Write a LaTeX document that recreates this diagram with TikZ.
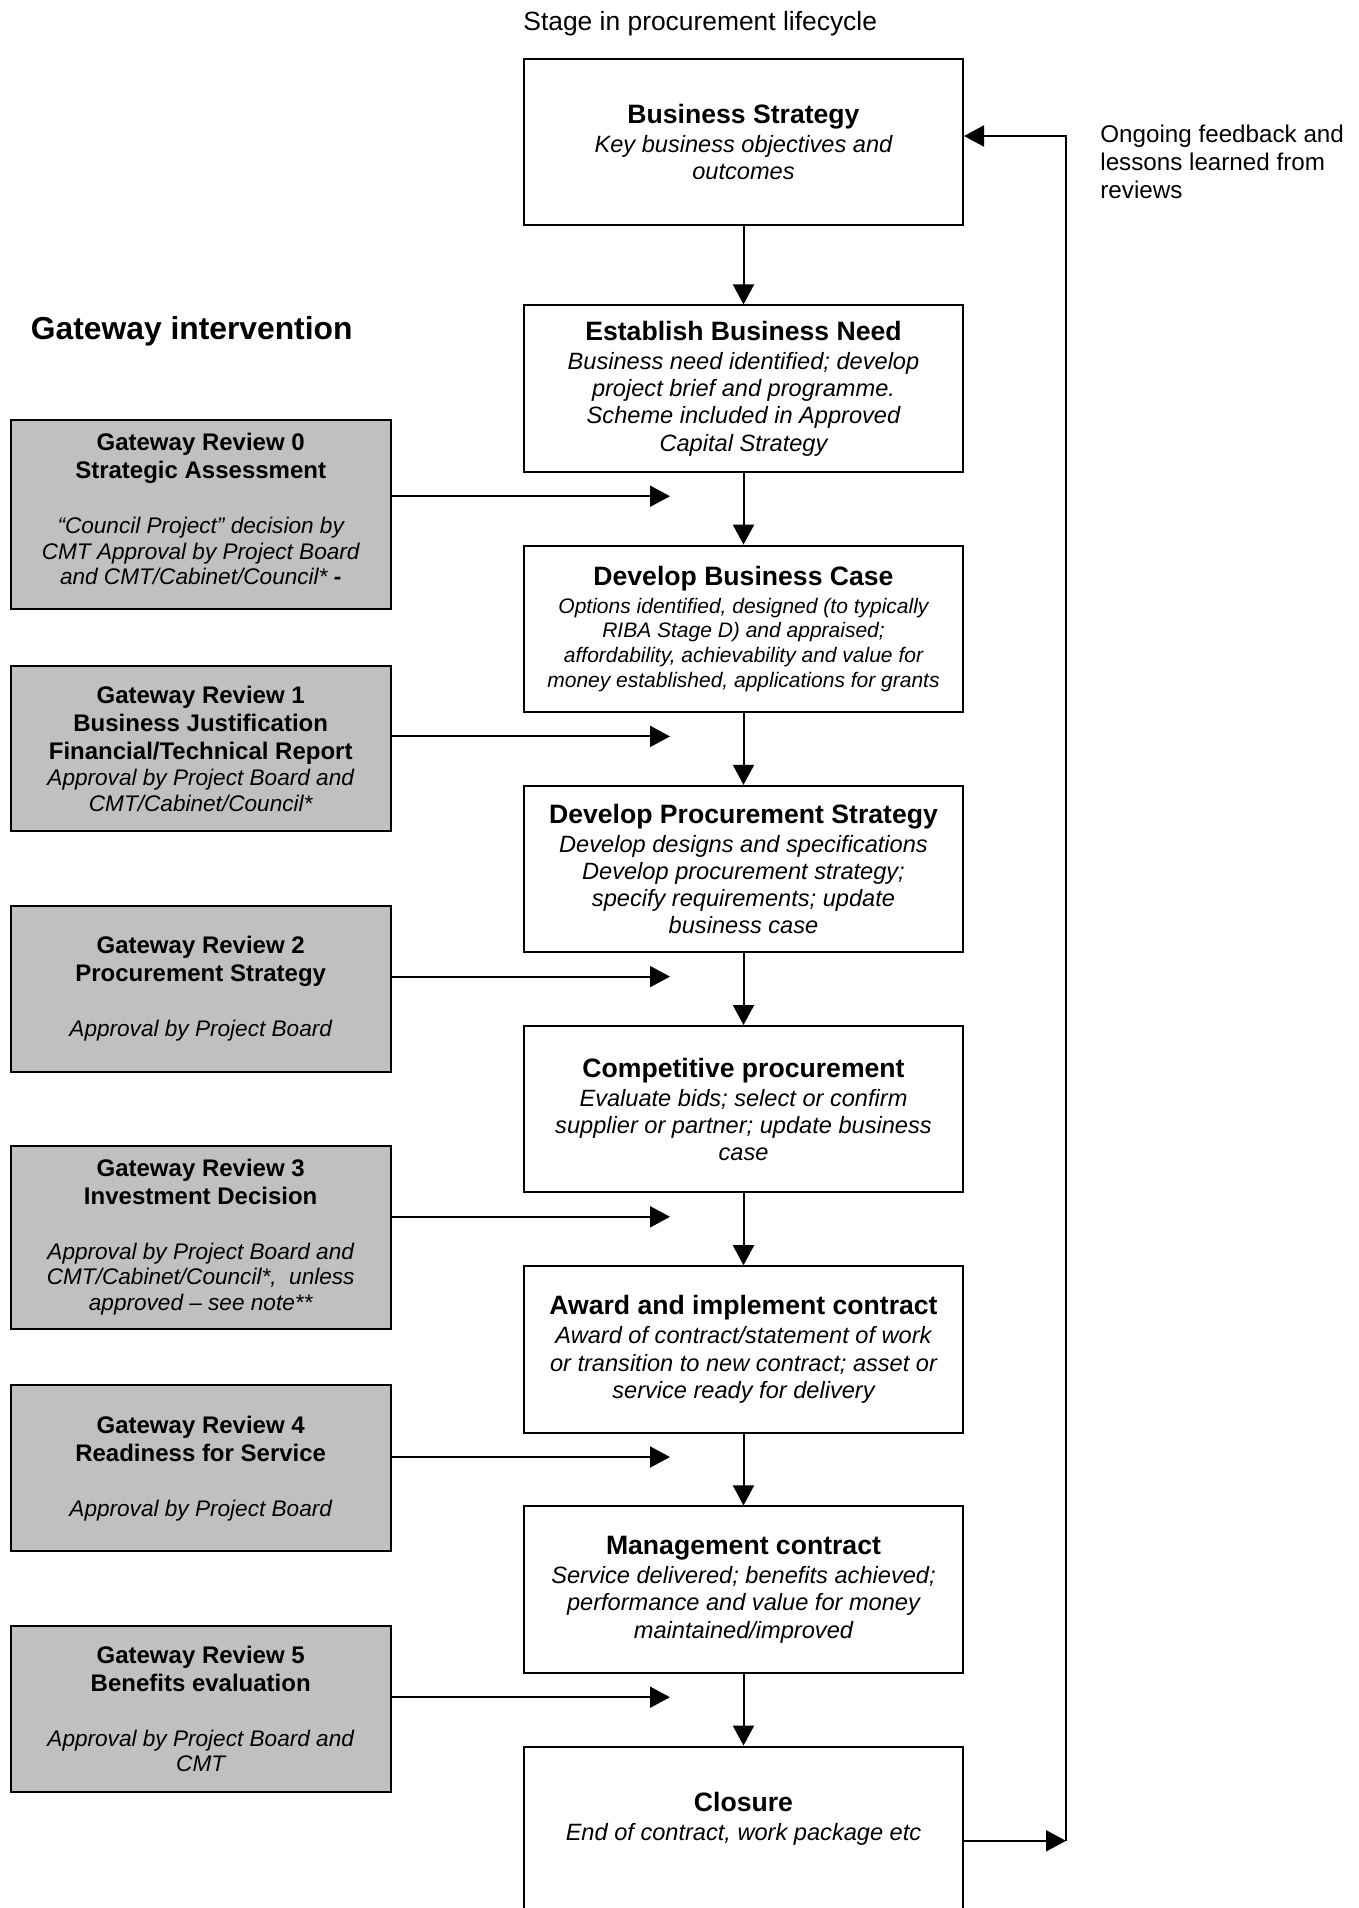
\documentclass[tikz,border=0pt]{standalone}
\usepackage{fontspec}
\setmainfont{Liberation Sans}
\usetikzlibrary{positioning,arrows.meta,calc}
\usepackage{xcolor}
\definecolor{gatefill}{RGB}{192,192,192}
\newcommand{\stagett}[1]{{\fontsize{13.3pt}{14pt}\selectfont\bfseries\upshape #1}}
\newcommand{\gatett}[1]{{\fontsize{12pt}{14pt}\selectfont\bfseries\upshape #1}}

\begin{document}
\begin{tikzpicture}[
    x=0.5pt, y=-0.5pt,
    stagebox/.style={draw, line width=1pt, minimum width=219.5pt, minimum height=83.2pt, inner sep=0pt, align=center, font=\fontsize{11.8pt}{13.6pt}\selectfont\itshape},
    gatebox/.style={draw, line width=1pt, fill=gatefill, minimum width=190pt, inner sep=0pt, align=center, font=\fontsize{11.3pt}{12.8pt}\selectfont\itshape},
    arrow/.style={-{Triangle[length=10pt, width=10.5pt]}, line width=1pt},
    plain/.style={inner sep=0pt, font=\fontsize{13.2pt}{14pt}\selectfont},
    node distance=35.9pt
]
\useasboundingbox (0,0) rectangle (1359,1908);

% Lifecycle stages
\node[stagebox] (bs) at (743.5,141.8) {\stagett{Business Strategy}\\[0.9pt]Key business objectives and\\outcomes};
\node[stagebox, below=39.2pt of bs] (ebn) {\stagett{Establish Business Need}\\[0.9pt]Business need identified; develop\\project brief and programme.\\Scheme included in Approved\\Capital Strategy};
\node[stagebox, below=of ebn, font=\fontsize{10.5pt}{12.3pt}\selectfont\itshape] (dbc) {\stagett{Develop Business Case}\\[1.7pt]Options identified, designed (to typically\\RIBA Stage D) and appraised;\\affordability, achievability and value for\\money established, applications for grants};
\node[stagebox, below=of dbc] (dps) {\stagett{Develop Procurement Strategy}\\[0.9pt]Develop designs and specifications\\Develop procurement strategy;\\specify requirements; update\\business case};
\node[stagebox, below=of dps] (cp) {\stagett{Competitive procurement}\\[0.9pt]Evaluate bids; select or confirm\\supplier or partner; update business\\case};
\node[stagebox, below=of cp] (aic) {\stagett{Award and implement contract}\\[0.9pt]Award of contract/statement of work\\or transition to new contract; asset or\\service ready for delivery};
\node[stagebox, below=of aic] (mc) {\stagett{Management contract}\\[0.9pt]Service delivered; benefits achieved;\\performance and value for money\\maintained/improved};
\node[stagebox, below=of mc] (closure) {\stagett{Closure}\\[0.9pt]End of contract, work package etc\\\mbox{}};

% Headings
\node[plain, anchor=base west] (stagelbl) at ([yshift=13.5pt]bs.north west) {Stage in procurement lifecycle};
\node[plain, anchor=base west, font=\fontsize{15.9pt}{17pt}\selectfont\bfseries] (gatelbl) at (30.5,339.5) {Gateway intervention};
\node[plain, anchor=north west, align=left, font=\fontsize{12.1pt}{14pt}\selectfont] (fblbl) at (1100,125) {Ongoing feedback and\\lessons learned from\\reviews};

% Gateway reviews
\node[gatebox, anchor=north west, minimum height=94.5pt] (gr0) at (9.7,418.5) {\gatett{Gateway Review 0}\\[1.2pt]\gatett{Strategic Assessment}\\[14.5pt]“Council Project” decision by\\CMT Approval by Project Board\\and CMT/Cabinet/Council* {\bfseries -}\\[-7.8pt]\mbox{}};
\node[gatebox, below=27.7pt of gr0, minimum height=82.75pt] (gr1) {\gatett{Gateway Review 1}\\[1.2pt]\gatett{Business Justification}\\[1.2pt]\gatett{Financial/Technical Report}\\[0.6pt]Approval by Project Board and\\CMT/Cabinet/Council*};
\node[gatebox, below=36.2pt of gr1, minimum height=83pt] (gr2) {\gatett{Gateway Review 2}\\[1.2pt]\gatett{Procurement Strategy}\\[14.5pt]Approval by Project Board};
\node[gatebox, below=36pt of gr2, minimum height=91.5pt] (gr3) {\gatett{Gateway Review 3}\\[1.2pt]\gatett{Investment Decision}\\[14.5pt]Approval by Project Board and\\CMT/Cabinet/Council*,\ \ unless\\approved – see note**};
\node[gatebox, below=27.3pt of gr3, minimum height=83pt] (gr4) {\gatett{Gateway Review 4}\\[1.2pt]\gatett{Readiness for Service}\\[14.5pt]Approval by Project Board};
\node[gatebox, below=36.5pt of gr4, minimum height=82.75pt] (gr5) {\gatett{Gateway Review 5}\\[1.2pt]\gatett{Benefits evaluation}\\[14.5pt]Approval by Project Board and\\CMT};

% Arrow ends between the stages
\coordinate (in0) at ([xshift=-36.75pt, yshift=-11.7pt]ebn.south);
\coordinate (in1) at ([xshift=-36.75pt, yshift=-11.7pt]dbc.south);
\coordinate (in2) at ([xshift=-36.75pt, yshift=-11.7pt]dps.south);
\coordinate (in3) at ([xshift=-36.75pt, yshift=-11.7pt]cp.south);
\coordinate (in4) at ([xshift=-36.75pt, yshift=-11.7pt]aic.south);
\coordinate (in5) at ([xshift=-36.75pt, yshift=-11.7pt]mc.south);
\coordinate (fb) at ([xshift=51pt, yshift=-5.5pt]closure.east);

% Arrows
\draw[arrow] (bs) -- (ebn);
\draw[arrow] (ebn) -- (dbc);
\draw[arrow] (dbc) -- (dps);
\draw[arrow] (dps) -- (cp);
\draw[arrow] (cp) -- (aic);
\draw[arrow] (aic) -- (mc);
\draw[arrow] (mc) -- (closure);
\draw[arrow] (gr0.east |- in0) -- (in0);
\draw[arrow] (gr1.east |- in1) -- (in1);
\draw[arrow] (gr2.east |- in2) -- (in2);
\draw[arrow] (gr3.east |- in3) -- (in3);
\draw[arrow] (gr4.east |- in4) -- (in4);
\draw[arrow] (gr5.east |- in5) -- (in5);

% Feedback loop
\draw[arrow] (closure.east |- fb) -- (fb);
\draw[arrow] (fb) |- ([yshift=2.9pt]bs.east);
\end{tikzpicture}
\end{document}
